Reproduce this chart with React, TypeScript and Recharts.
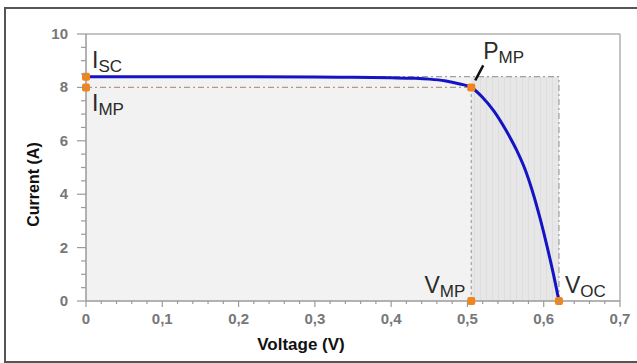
import React from 'react'
import {
    ComposedChart,
    Line,
    Scatter,
    XAxis,
    YAxis,
    ReferenceArea,
    ReferenceLine,
    Label,
} from 'recharts'

// I-V curve of a solar cell
const curveVoltage = [0, 0.1, 0.2, 0.3, 0.35, 0.4, 0.43, 0.45, 0.47, 0.49, 0.505, 0.52, 0.535, 0.55, 0.565, 0.575, 0.585, 0.595, 0.605, 0.612, 0.62]
const curveCurrent = [8.4, 8.4, 8.4, 8.39, 8.38, 8.36, 8.34, 8.31, 8.25, 8.13, 8.0, 7.62, 7.1, 6.42, 5.62, 4.97, 4.13, 3.12, 1.97, 1.1, 0]

const ISC = 8.4
const IMP = 8.0
const VMP = 0.505
const VOC = 0.62

// key points (orange markers)
const pointNames = ['ISC', 'IMP', 'PMP', 'VMP', 'VOC']
const pointVoltage = [0, 0, VMP, VMP, VOC]
const pointCurrent = [ISC, IMP, IMP, 0, 0]
const pointMain = ['I', 'I', 'P', 'V', 'V']
const pointSub = ['SC', 'MP', 'MP', 'MP', 'OC']

const xMajorTicks = [0, 0.1, 0.2, 0.3, 0.4, 0.5, 0.6, 0.7]
const xTickLabels = ['0', '0,1', '0,2', '0,3', '0,4', '0,5', '0,6', '0,7']
const yMajorTicks = [0, 2, 4, 6, 8, 10]
const xAllTicks = Array.from({ length: 36 }, (_, i) => +(i * 0.02).toFixed(2))
const yAllTicks = Array.from({ length: 21 }, (_, i) => i * 0.5)

const curveData = curveVoltage.map((v, k) => ({ v, i: curveCurrent[k] }))
const pointData = pointNames.map((name, k) => ({
    name,
    v: pointVoltage[k],
    i: pointCurrent[k],
    main: pointMain[k],
    sub: pointSub[k],
}))

// label placement relative to each marker
const labelPos: Record<string, { dx: number; dy: number; anchor: 'start' | 'end'; arrow?: boolean }> = {
    ISC: { dx: 6, dy: -9, anchor: 'start' },
    IMP: { dx: 6, dy: 24, anchor: 'start' },
    PMP: { dx: 12, dy: -28, anchor: 'start', arrow: true },
    VMP: { dx: -6, dy: -8, anchor: 'end' },
    VOC: { dx: 6, dy: -8, anchor: 'start' },
}

const FONT = '"Liberation Sans", Arial, sans-serif'
const AXIS_GREY = '#9a9a9a'

const XTick = (props: any) => {
    const { x, y, payload } = props
    const idx = xMajorTicks.findIndex((t) => Math.abs(t - payload.value) < 1e-6)
    const major = idx >= 0
    return (
        <g>
            <line x1={x} x2={x} y1={y} y2={y + (major ? 6 : 3)} stroke={AXIS_GREY} strokeWidth={1.2} />
            {major && (
                <text x={x} y={y + 23} textAnchor="middle" fill="#777" fontSize={15} fontWeight="bold" fontFamily={FONT}>
                    {xTickLabels[idx]}
                </text>
            )}
        </g>
    )
}

const YTick = (props: any) => {
    const { x, y, payload } = props
    const major = yMajorTicks.includes(payload.value)
    return (
        <g>
            <line x1={x - (major ? 9 : 5)} x2={x} y1={y} y2={y} stroke={AXIS_GREY} strokeWidth={1.2} />
            {major && (
                <text x={x - 18} y={y + 5} textAnchor="end" fill="#777" fontSize={15} fontWeight="bold" fontFamily={FONT}>
                    {payload.value}
                </text>
            )}
        </g>
    )
}

const PointMark = (props: any) => {
    const { cx, cy, payload } = props
    if (cx == null || cy == null) return null
    const p = labelPos[payload.name]
    return (
        <g>
            <rect x={cx - 4} y={cy - 4} width={8} height={8} rx={2} fill="#f0851e" />
            {p.arrow && (
                <line x1={cx + 12} y1={cy - 22} x2={cx + 4} y2={cy - 7} stroke="#111" strokeWidth={2.5} />
            )}
            <text x={cx + p.dx} y={cy + p.dy} textAnchor={p.anchor} fill="#2a2a2a" fontFamily={FONT}>
                <tspan fontSize={23}>{payload.main}</tspan>
                <tspan fontSize={17} dy={4}>{payload.sub}</tspan>
            </text>
        </g>
    )
}

export default function App() {
    return (
        <div
            style={{
                position: 'absolute',
                left: 0,
                top: 0,
                width: 637,
                height: 363,
                background: '#fff',
                overflow: 'hidden',
            }}
        >
            <div
                style={{
                    position: 'absolute',
                    left: 4,
                    top: 7,
                    width: 660,
                    height: 352,
                    border: '2px solid #555',
                }}
            />
            <div style={{ position: 'absolute', left: 0, top: 0 }}>
                <ComposedChart
                    width={637}
                    height={363}
                    data={curveData}
                    margin={{ top: 34, right: 17, bottom: 32, left: 46 }}
                    style={{ fontFamily: FONT }}
                >
                    <defs>
                        <pattern id="stripes" width="6" height="10" patternUnits="userSpaceOnUse">
                            <line x1="0.5" y1="0" x2="0.5" y2="10" stroke="#d8d8d8" strokeWidth={1} />
                        </pattern>
                    </defs>
                    <XAxis
                        type="number"
                        dataKey="v"
                        domain={[0, 0.7]}
                        ticks={xAllTicks}
                        interval={0}
                        tick={<XTick />}
                        tickLine={false}
                        tickSize={0}
                        tickMargin={0}
                        height={30}
                        axisLine={{ stroke: AXIS_GREY, strokeWidth: 1.5 }}
                    >
                        <Label
                            content={(lp: any) => {
                                const vb = lp.viewBox
                                return (
                                    <text
                                        x={vb.x + 215}
                                        y={vb.y + 49}
                                        textAnchor="middle"
                                        fontSize={17}
                                        fontWeight="bold"
                                        fill="#111"
                                        fontFamily={FONT}
                                    >
                                        Voltage (V)
                                    </text>
                                )
                            }}
                        />
                    </XAxis>
                    <YAxis
                        type="number"
                        domain={[0, 10]}
                        ticks={yAllTicks}
                        interval={0}
                        tick={<YTick />}
                        tickLine={false}
                        tickSize={0}
                        tickMargin={0}
                        width={40}
                        axisLine={{ stroke: AXIS_GREY, strokeWidth: 1.5 }}
                    >
                        <Label
                            content={(lp: any) => {
                                const vb = lp.viewBox
                                const cx = vb.x - 11
                                const cy = vb.y + vb.height / 2 + 17
                                return (
                                    <text
                                        x={cx}
                                        y={cy}
                                        transform={`rotate(-90 ${cx} ${cy})`}
                                        textAnchor="middle"
                                        dominantBaseline="middle"
                                        fontSize={16}
                                        fontWeight="bold"
                                        fill="#111"
                                        fontFamily={FONT}
                                    >
                                        Current (A)
                                    </text>
                                )
                            }}
                        />
                    </YAxis>

                    {/* shaded rectangles */}
                    <ReferenceArea x1={0} x2={VOC} y1={0} y2={ISC} fill="#f2f2f2" fillOpacity={1} stroke="none" />
                    <ReferenceArea x1={VMP} x2={VOC} y1={0} y2={ISC} fill="#e7e7e7" fillOpacity={1} stroke="none" />
                    <ReferenceArea x1={VMP} x2={VOC} y1={0} y2={ISC} fill="url(#stripes)" fillOpacity={0.6} stroke="none" />

                    {/* plot frame */}
                    <ReferenceLine y={10} stroke="#b0b0b0" strokeWidth={1.5} />
                    <ReferenceLine x={0.7} stroke="#b0b0b0" strokeWidth={1.5} />

                    {/* guide lines */}
                    <ReferenceLine
                        segment={[{ x: 0, y: ISC }, { x: VOC, y: ISC }]}
                        stroke="#a0a0a0"
                        strokeWidth={1.2}
                        strokeDasharray="6 3 2 3"
                    />
                    <ReferenceLine
                        segment={[{ x: VOC, y: 0 }, { x: VOC, y: ISC }]}
                        stroke="#a0a0a0"
                        strokeWidth={1.2}
                        strokeDasharray="6 3 2 3"
                    />
                    <ReferenceLine
                        segment={[{ x: 0, y: IMP }, { x: VMP, y: IMP }]}
                        stroke="#b09a8a"
                        strokeWidth={1.2}
                        strokeDasharray="6 3 2 3"
                    />
                    <ReferenceLine
                        segment={[{ x: VMP, y: 0 }, { x: VMP, y: IMP }]}
                        stroke="#a0a0a0"
                        strokeWidth={1.2}
                        strokeDasharray="3 3"
                    />

                    <Line
                        type="monotone"
                        dataKey="i"
                        stroke="#1414c4"
                        strokeWidth={3}
                        dot={false}
                        activeDot={false}
                        isAnimationActive={false}
                    />
                    <Scatter data={pointData} dataKey="i" shape={<PointMark />} isAnimationActive={false} />
                </ComposedChart>
            </div>
        </div>
    )
}
